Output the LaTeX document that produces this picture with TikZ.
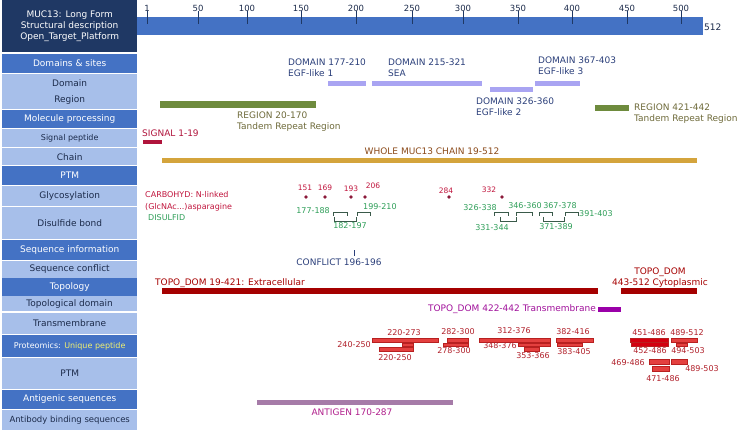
\documentclass[tikz,border=0pt]{standalone}
\usepackage{fontspec}
\setmainfont{DejaVu Sans}
\usetikzlibrary{positioning}

\definecolor{headnavy}{HTML}{1F3864}
\definecolor{secblue}{HTML}{4472C4}
\definecolor{rowlight}{HTML}{A7BFEA}
\definecolor{rowtext}{HTML}{1C2B4B}
\definecolor{unique}{HTML}{F0F070}
\definecolor{domfill}{HTML}{A9A4F2}
\definecolor{domtext}{HTML}{2B3F7A}
\definecolor{regfill}{HTML}{6E8B3D}
\definecolor{regtext}{HTML}{6E6A3A}
\definecolor{sigred}{HTML}{B0143C}
\definecolor{chainfill}{HTML}{D4A43C}
\definecolor{chaintext}{HTML}{8B4A1A}
\definecolor{glyred}{HTML}{C0143C}
\definecolor{glydot}{HTML}{8B1A3A}
\definecolor{ssgreen}{HTML}{2E9E58}
\definecolor{ssline}{HTML}{3A5A4A}
\definecolor{topored}{HTML}{A50000}
\definecolor{tmpurple}{HTML}{9A00A8}
\definecolor{tmtext}{HTML}{A0109A}
\definecolor{pepfill}{HTML}{E4403F}
\definecolor{pepdeep}{HTML}{D40010}
\definecolor{pepdraw}{HTML}{B82020}
\definecolor{peptext}{HTML}{B0202A}
\definecolor{agfill}{HTML}{A67BA8}
\definecolor{agtext}{HTML}{B0208C}

\begin{document}
\begin{tikzpicture}[
		x=1pt, y=-1pt,
		font=\fontsize{9}{11}\selectfont,
		% Left panel rows
		head row/.style={fill=headnavy, text=white, minimum width=135pt, inner sep=0pt, anchor=north west, align=center},
		sec row/.style={fill=secblue, text=white, minimum width=135pt, inner sep=0pt, anchor=north west},
		sub row/.style={fill=rowlight, text=rowtext, minimum width=135pt, inner sep=0pt, anchor=north west},
		% Ruler
		tick/.style={draw=headnavy, line width=0.8pt},
		tick label/.style={text=rowtext, font=\fontsize{8.5}{10}\selectfont, inner sep=0pt},
		% Feature labels
		lbl/.style={inner sep=0pt, align=left, anchor=west},
		lblc/.style={inner sep=0pt, align=center},
		small/.style={font=\fontsize{8}{12}\selectfont},
		tiny/.style={font=\fontsize{7.5}{9}\selectfont},
		% Feature bars
		dom bar/.style={fill=domfill},
		reg bar/.style={fill=regfill},
		pep bar/.style={fill=pepfill, draw=pepdraw, line width=0.4pt},
		ss bond/.style={draw=ssline, line width=0.7pt},
		glyco/.style={circle, fill=glydot, inner sep=0pt, minimum size=3.8pt}
		]
		\useasboundingbox (0,0) rectangle (739,431);
		
		% ==============================================================================
		% 1. LEFT PANEL
		% ==============================================================================
		\node[head row, minimum height=52pt] (title) at (2,0) {MUC13: Long Form\\Structural description\\Open\_Target\_Platform};
		\node[sec row, minimum height=19.5pt] (domsites) at (2,53.5) {Domains \& sites};
		\node[sub row, minimum height=17pt] (domain) at (2,74) {Domain};
		\node[sub row, minimum height=17.5pt] (region) at (2,91) {Region};
		\node[sec row, minimum height=18.5pt] (molproc) at (2,109.5) {Molecule processing};
		\node[sub row, minimum height=18pt, font=\fontsize{8}{10}\selectfont] (signal) at (2,129) {Signal peptide};
		\node[sub row, minimum height=17pt] (chain) at (2,148) {Chain};
		\node[sec row, minimum height=19pt] (ptm) at (2,166) {PTM};
		\node[sub row, minimum height=20pt] (glycos) at (2,186) {Glycosylation};
		\node[sub row, minimum height=31.5pt] (disulf) at (2,207) {Disulfide bond};
		\node[sec row, minimum height=19.5pt] (seqinfo) at (2,240) {Sequence information};
		\node[sub row, minimum height=17pt] (seqconf) at (2,260.5) {Sequence conflict};
		\node[sec row, minimum height=18pt] (topology) at (2,278) {Topology};
		\node[sub row, minimum height=15pt] (topodom) at (2,296) {\raisebox{2pt}{Topological domain}};
		\node[sub row, minimum height=20.5pt] (transm) at (2,313) {Transmembrane};
		\node[sec row, minimum height=22pt, font=\fontsize{8}{10}\selectfont] (proteo) at (2,335) {Proteomics: \textcolor{unique}{Unique peptide}};
		\node[sub row, minimum height=30.5pt] (pepptm) at (2,358) {PTM};
		\node[sec row, minimum height=18.5pt] (antigenic) at (2,390) {Antigenic sequences};
		\node[sub row, minimum height=20pt, font=\fontsize{8.5}{10}\selectfont] (antibody) at (2,410) {Antibody binding sequences};
		
		% ==============================================================================
		% 2. RULER
		% ==============================================================================
		\fill[secblue] (137,17) rectangle (703,35);
		\node[tick label] (t1) at (147,8) {1};
		\node[tick label] (t50) at (198,8) {50};
		\node[tick label] (t100) at (247,8) {100};
		\node[tick label] (t150) at (301,8) {150};
		\node[tick label] (t200) at (356,8) {200};
		\node[tick label] (t250) at (412,8) {250};
		\node[tick label] (t300) at (463,8) {300};
		\node[tick label] (t350) at (518,8) {350};
		\node[tick label] (t400) at (572,8) {400};
		\node[tick label] (t450) at (627,8) {450};
		\node[tick label] (t500) at (681,8) {500};
		\foreach \t in {t1,t50,t100,t150,t200,t250,t300,t350,t400,t450,t500}
			\draw[tick] (\t.south) -- ++(0,13);
		\node[tick label, anchor=west, font=\fontsize{9}{10}\selectfont] (tend) at (704,27) {512};
		
		% ==============================================================================
		% 3. DOMAINS & REGIONS
		% ==============================================================================
		\fill[dom bar] (328,81) rectangle (366,86);
		\fill[dom bar] (372,81) rectangle (482,86);
		\fill[dom bar] (490,87) rectangle (533,92);
		\fill[dom bar] (535,81) rectangle (580,86);
		\node[lbl, text=domtext] (dom1) at (288,67.5) {DOMAIN 177-210\\EGF-like 1};
		\node[lbl, text=domtext] (dom2) at (388,67.5) {DOMAIN 215-321\\SEA};
		\node[lbl, text=domtext] (dom3) at (476,106.5) {DOMAIN 326-360\\EGF-like 2};
		\node[lbl, text=domtext] (dom4) at (538,65.5) {DOMAIN 367-403\\EGF-like 3};
		
		\fill[reg bar] (160,101) rectangle (316,108);
		\fill[reg bar] (595,105) rectangle (629,111);
		\node[lbl, text=regtext] (reg1) at (237,121.5) {REGION 20-170\\Tandem Repeat Region};
		\node[lbl, text=regtext] (reg2) at (634,113.5) {REGION 421-442\\Tandem Repeat Region};
		
		% ==============================================================================
		% 4. SIGNAL & CHAIN
		% ==============================================================================
		\node[lbl, text=sigred] (siglbl) at (142,133) {SIGNAL 1-19};
		\fill[sigred] (143,140) rectangle (162,144);
		\node[lblc, text=chaintext] (chainlbl) at (432,151) {WHOLE MUC13 CHAIN 19-512};
		\fill[chainfill] (162,158) rectangle (697,163);
		
		% ==============================================================================
		% 5. PTM: GLYCOSYLATION & DISULFIDE BONDS
		% ==============================================================================
		\node[lbl, small, text=glyred] (carbo) at (145,201) {CARBOHYD: N-linked\\(GlcNAc...)asparagine};
		\node[lbl, small, text=ssgreen] (disulfid) at (148,218) {DISULFID};
		
		\node[glyco] (g151) at (306,197) {};
		\node[glyco] (g169) at (325,197) {};
		\node[glyco] (g193) at (351,197) {};
		\node[glyco] (g206) at (365,197) {};
		\node[glyco] (g284) at (449,197) {};
		\node[glyco] (g332) at (502,197) {};
		\node[lblc, tiny, text=glyred] at (305,188) {151};
		\node[lblc, tiny, text=glyred] at (325,188) {169};
		\node[lblc, tiny, text=glyred] at (351,189) {193};
		\node[lblc, tiny, text=glyred] at (373,186) {206};
		\node[lblc, tiny, text=glyred] at (446,191) {284};
		\node[lblc, tiny, text=glyred] at (489,190) {332};
		
		% upper bonds
		\draw[ss bond] (333,215.5) |- (347,212) -- (347,215.5);
		\draw[ss bond] (357,215.5) |- (370,212) -- (370,215.5);
		\draw[ss bond] (494,215.5) |- (508,212) -- (508,215.5);
		\draw[ss bond] (516,215.5) |- (532,212) -- (532,215.5);
		\draw[ss bond] (539,215.5) |- (552,212) -- (552,215.5);
		\draw[ss bond] (565,215.5) |- (578,212) -- (578,215.5);
		% lower bonds
		\draw[ss bond] (334,217) |- (356,221) -- (356,217);
		\draw[ss bond] (500,217) |- (516,221) -- (516,217);
		\draw[ss bond] (543,217) |- (564,221) -- (564,217);
		
		\node[lbl, small, text=ssgreen, anchor=east] at (330,211) {177-188};
		\node[lbl, small, text=ssgreen] at (363,207) {199-210};
		\node[lblc, small, text=ssgreen] at (350,226) {182-197};
		\node[lbl, small, text=ssgreen, anchor=east] at (497,208) {326-338};
		\node[lblc, small, text=ssgreen] at (492,228) {331-344};
		\node[lblc, small, text=ssgreen] at (525,206) {346-360};
		\node[lblc, small, text=ssgreen] at (560,206) {367-378};
		\node[lblc, small, text=ssgreen] at (556,227) {371-389};
		\node[lbl, small, text=ssgreen] at (579,214) {391-403};
		
		% ==============================================================================
		% 6. SEQUENCE CONFLICT
		% ==============================================================================
		\draw[domtext, line width=0.9pt] (354,250) -- (354,256);
		\node[lblc, text=domtext] (conflbl) at (339,262) {CONFLICT 196-196};
		
		% ==============================================================================
		% 7. TOPOLOGY
		% ==============================================================================
		\node[lbl, text=topored] (extra) at (155,283) {TOPO\_DOM 19-421: Extracellular};
		\fill[topored] (162,288) rectangle (598,294);
		\node[lblc, text=topored] (cyto) at (660,277.5) {TOPO\_DOM\\443-512 Cytoplasmic};
		\fill[topored] (621,288) rectangle (697,294);
		\node[lbl, text=tmtext, anchor=east] (tmlbl) at (596,309) {TOPO\_DOM 422-442 Transmembrane};
		\fill[tmpurple] (598,307) rectangle (621,312);
		
		% ==============================================================================
		% 8. PROTEOMICS: UNIQUE PEPTIDES
		% ==============================================================================
		\draw[pep bar] (372,338) rectangle (438,342);
		\draw[pep bar] (402,343) rectangle (413,346);
		\draw[pep bar] (379,347) rectangle (413,351);
		\draw[pep bar] (447,338) rectangle (468,342);
		\draw[pep bar] (443,343) rectangle (468,346);
		\draw[pep bar] (479,338) rectangle (550,342);
		\draw[pep bar] (518,343) rectangle (550,346);
		\draw[pep bar] (524,347) rectangle (539,351);
		\draw[pep bar] (556,338) rectangle (593,342);
		\draw[pep bar] (557,343) rectangle (582,346);
		\draw[pep bar, fill=pepdeep] (631,341) rectangle (668,346);
		\draw[pep bar, fill=pepdeep] (630,338) rectangle (668,342);
		\draw[pep bar] (671,338) rectangle (697,342);
		\draw[pep bar] (676,343) rectangle (687,346);
		\draw[pep bar] (649,359) rectangle (669,364);
		\draw[pep bar] (652,366) rectangle (669,371);
		\draw[pep bar] (671,359) rectangle (687,364);
		
		\node[lblc, small, text=peptext] at (404,333) {220-273};
		\node[lbl, small, text=peptext, anchor=east] at (371,345) {240-250};
		\node[lblc, small, text=peptext] at (395,358) {220-250};
		\node[lblc, small, text=peptext] at (458,332) {282-300};
		\node[lblc, small, text=peptext] at (454,351) {278-300};
		\node[lblc, small, text=peptext] at (514,331) {312-376};
		\node[lblc, small, text=peptext] at (500,346) {348-376};
		\node[lblc, small, text=peptext] at (533,356) {353-366};
		\node[lblc, small, text=peptext] at (573,332) {382-416};
		\node[lblc, small, text=peptext] at (574,352) {383-405};
		\node[lblc, small, text=peptext] at (649,333) {451-486};
		\node[lblc, small, text=peptext] at (650,351) {452-486};
		\node[lblc, small, text=peptext] at (687,333) {489-512};
		\node[lblc, small, text=peptext] at (688,351) {494-503};
		\node[lbl, small, text=peptext, anchor=east] at (645,363) {469-486};
		\node[lblc, small, text=peptext] at (663,379) {471-486};
		\node[lblc, small, text=peptext] at (702,369) {489-503};
		
		% ==============================================================================
		% 9. ANTIGENIC SEQUENCES
		% ==============================================================================
		\fill[agfill] (257,400) rectangle (453,405);
		\node[lblc, text=agtext] (aglbl) at (352,412) {ANTIGEN 170-287};
	\end{tikzpicture}
\end{document}
